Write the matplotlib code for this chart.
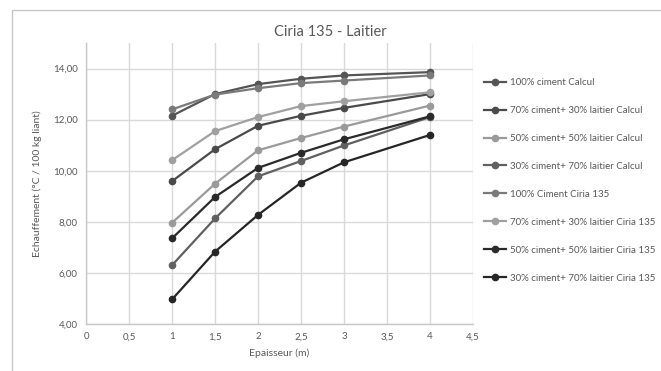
import matplotlib
matplotlib.use("Agg")
import matplotlib.pyplot as plt
from matplotlib.patches import Rectangle

plt.rcParams['font.family'] = ['Lato', 'DejaVu Sans']

epaisseur = [1, 1.5, 2, 2.5, 3, 4]

labels = [
    "100% ciment Calcul",
    "70% ciment+ 30% laitier Calcul",
    "50% ciment+ 50% laitier Calcul",
    "30% ciment+ 70% laitier Calcul",
    "100% Ciment Ciria 135",
    "70% ciment+ 30% laitier Ciria 135",
    "50% ciment+ 50% laitier Ciria 135",
    "30% ciment+ 70% laitier Ciria 135",
]

ciment100_calc = [12.15, 13.00, 13.39, 13.60, 13.73, 13.86]
c70_calc = [9.59, 10.84, 11.76, 12.15, 12.46, 13.00]
c50_calc = [7.96, 9.49, 10.80, 11.28, 11.73, 12.55]
c30_calc = [6.30, 8.13, 9.78, 10.38, 10.99, 12.10]
ciment100_ciria = [12.40, 12.98, 13.23, 13.43, 13.53, 13.73]
c70_ciria = [10.41, 11.55, 12.10, 12.53, 12.72, 13.07]
c50_ciria = [7.35, 8.97, 10.11, 10.70, 11.23, 12.13]
c30_ciria = [4.96, 6.83, 8.27, 9.53, 10.33, 11.40]

series = [ciment100_calc, c70_calc, c50_calc, c30_calc,
          ciment100_ciria, c70_ciria, c50_ciria, c30_ciria]
colors = ['#555555', '#4a4a4a', '#9a9a9a', '#606060',
          '#7a7a7a', '#a0a0a0', '#2a2a2a', '#262626']

fig = plt.figure(figsize=(6.61, 3.71), dpi=100)
fig.patches.append(Rectangle((12 / 661, -0.01), 1, (371 - 10) / 371 + 0.01,
                             transform=fig.transFigure, fill=False,
                             edgecolor='#c8c8c8', linewidth=1))
ax = fig.add_axes([86 / 661, (371 - 324) / 371, (473 - 86) / 661, (324 - 43) / 371])

for vals, lab, col in zip(series, labels, colors):
    ax.plot(epaisseur, vals, color=col, marker='o', markersize=4.5,
            linewidth=1.6, label=lab)

ax.set_xlim(0, 4.5)
ax.set_ylim(4, 15)
xt = [0, 0.5, 1, 1.5, 2, 2.5, 3, 3.5, 4, 4.5]
ax.set_xticks(xt)
ax.set_xticklabels([('%g' % v).replace('.', ',') for v in xt])
yt = [4, 6, 8, 10, 12, 14]
ax.set_yticks(yt)
ax.set_yticklabels(['%d,00' % v for v in yt])
ax.grid(True, color='#d9d9d9', linewidth=1)
ax.set_axisbelow(True)
for s in ['top', 'right']:
    ax.spines[s].set_visible(False)
for s in ['left', 'bottom']:
    ax.spines[s].set_color('#c8c8c8')
    ax.spines[s].set_linewidth(1)
ax.tick_params(length=0, labelsize=7, colors='#595959', pad=6)

ax.set_xlabel('Epaisseur (m)', fontsize=7.5, color='#595959', labelpad=5)
ax.set_ylabel('Echauffement (°C / 100 kg liant)', fontsize=7.5, color='#595959', labelpad=8)
fig.text(330 / 661, 1 - 32 / 371, 'Ciria 135 - Laitier', fontsize=10.5,
         color='#595959', ha='center', va='center')

ax.legend(loc='upper left', bbox_to_anchor=(484 / 661, 1 - 78 / 371),
          bbox_transform=fig.transFigure, frameon=False, fontsize=7,
          labelcolor='#595959', handlelength=2.3, handletextpad=0.4,
          labelspacing=1.95, borderaxespad=0, borderpad=0)

fig.savefig('out.png', dpi=100)
